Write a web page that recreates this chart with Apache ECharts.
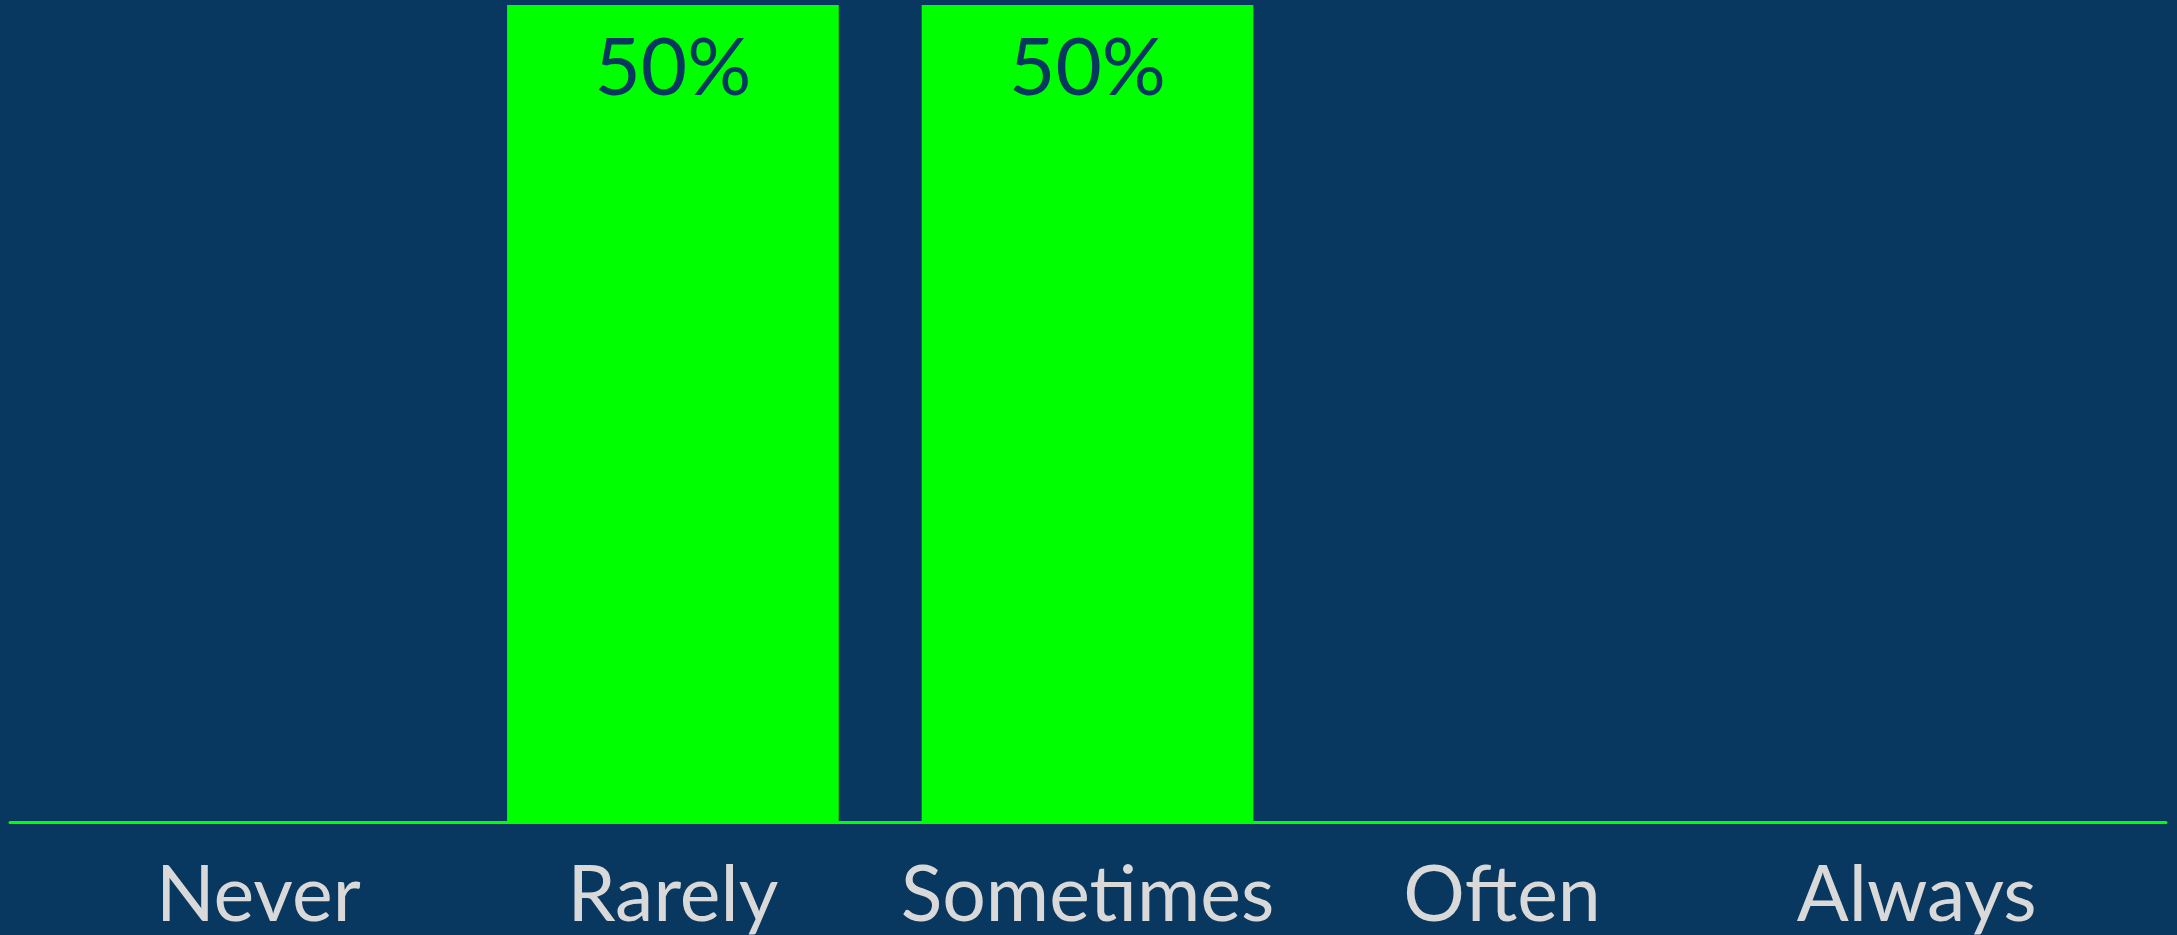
<!DOCTYPE html>
<html>
<head>
<meta charset="utf-8">
<script src="https://cdn.jsdelivr.net/npm/echarts@6/dist/echarts.min.js"></script>
<style>
html,body{margin:0;padding:0;background:#08375F;}
#c{width:2177px;height:935px;}
</style>
</head>
<body>
<div id="c"></div>
<script>
const categories = ['Never', 'Rarely', 'Sometimes', 'Often', 'Always'];
const percentValues = [0, 50, 50, 0, 0];
const yMax = 50;

const chart = echarts.init(document.getElementById('c'), null, {renderer: 'canvas'});
chart.setOption({
  backgroundColor: '#08375F',
  animation: false,
  grid: [
    {left: 51, right: 53, top: 5, bottom: 113, containLabel: false},
    {left: 10, right: 11, top: 5, bottom: 113, containLabel: false}
  ],
  xAxis: [
    {
      type: 'category', gridIndex: 0, data: categories,
      axisLine: {show: false}, axisTick: {show: false},
      axisLabel: {color: '#D9D9D9', fontFamily: 'Lato', fontSize: 77, margin: 37, interval: 0}
    },
    {
      type: 'value', gridIndex: 1, min: 0, max: 1,
      axisLine: {show: true, lineStyle: {color: '#00FF00', width: 3}},
      axisTick: {show: false}, axisLabel: {show: false}, splitLine: {show: false}
    }
  ],
  yAxis: [
    {type: 'value', gridIndex: 0, min: 0, max: yMax, show: false, splitLine: {show: false}},
    {type: 'value', gridIndex: 1, min: 0, max: 1, show: false, splitLine: {show: false}}
  ],
  series: [{
    type: 'bar', xAxisIndex: 0, yAxisIndex: 0,
    data: percentValues,
    barCategoryGap: '20%',
    itemStyle: {color: '#00FF00'},
    label: {
      show: true, position: 'insideTop', distance: 24,
      color: '#08375F', fontFamily: 'Lato', fontSize: 80,
      formatter: p => p.value > 0 ? p.value + '%' : ''
    }
  }]
});
</script>
</body>
</html>
